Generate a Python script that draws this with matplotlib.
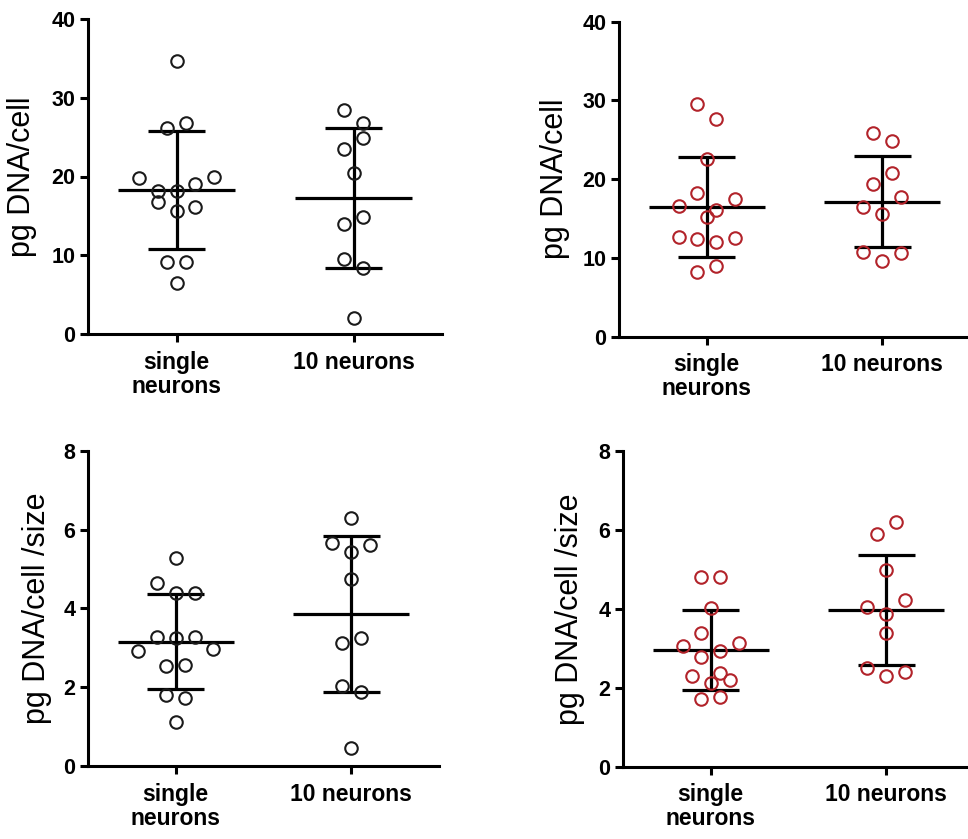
import matplotlib
matplotlib.use("Agg")
import matplotlib.pyplot as plt
import numpy as np

plt.rcParams['font.family'] = ['Liberation Sans', 'DejaVu Sans']

# ---------------- data (listed row by row, left-to-right within a row) ----------------
categories = ["single\nneurons", "10 neurons"]

# top-left: pg DNA/cell (black)
dna_black_single = [34.67, 26.13, 26.85, 19.87, 18.18, 18.18, 19.03, 20.0,
                    16.7, 15.64, 16.15, 9.13, 9.13, 6.43]
dna_black_ten = [28.46, 26.77, 23.51, 24.86, 20.42, 14.0, 14.84, 9.56, 8.37, 2.03]

# top-right: pg DNA/cell (red)
dna_red_single = [29.5, 27.6, 22.6, 16.63, 18.28, 16.04, 17.44, 15.15,
                  12.61, 12.44, 12.06, 12.57, 8.17, 8.97]
dna_red_ten = [25.81, 24.84, 19.34, 20.82, 16.5, 15.53, 17.77, 10.79, 9.65, 10.58]

# bottom-left: pg DNA/cell/size (black)
size_black_single = [5.28, 4.65, 4.38, 4.38, 2.93, 3.28, 3.26, 3.28, 2.97,
                     2.54, 2.56, 1.80, 1.72, 1.11]
size_black_ten = [6.28, 5.65, 5.44, 5.62, 4.74, 3.13, 3.24, 2.03, 1.89, 0.45]

# bottom-right: pg DNA/cell/size (red)
size_red_single = [4.81, 4.80, 4.03, 3.06, 3.38, 2.93, 3.14, 2.79, 2.38,
                   2.31, 2.13, 2.20, 1.71, 1.77]
size_red_ten = [5.90, 6.19, 4.98, 4.05, 3.86, 4.22, 3.40, 2.51, 2.31, 2.39]

top_ticks = [0, 10, 20, 30, 40]
bottom_ticks = [0, 2, 4, 6, 8]
ylabel_top = "pg DNA/cell"
ylabel_bottom = "pg DNA/cell /size"

BLACK = "#1a1a1a"
RED = "#b2232a"

# ---------------- helpers ----------------
ROW_FRAC = 0.0585   # rows are groups of points within this fraction of y range
STEP = 0.107        # horizontal spacing between points within a row


def row_offsets(values, row_h, step):
    n = len(values)
    order = sorted(range(n), key=lambda i: (-values[i], i))
    rows = []
    for i in order:
        if rows and rows[-1][0] - values[i] <= row_h:
            rows[-1][1].append(i)
        else:
            rows.append([values[i], [i]])
    offs = np.zeros(n)
    for _, idx in rows:
        idx = sorted(idx)
        k = len(idx)
        for j, i in enumerate(idx):
            offs[i] = (j - (k - 1) / 2) * step
    return offs


def panel(rect, groups, color, ticks, ylabel, label_x):
    ax = fig.add_axes(rect)
    ymax = ticks[-1]
    ax.set_xlim(-0.5, 1.5)
    ax.set_ylim(0, ymax)
    row_h = ROW_FRAC * ymax
    for pos, vals in enumerate(groups):
        v = np.asarray(vals, dtype=float)
        m = v.mean()
        sd = v.std(ddof=1)
        ax.hlines(m, pos - 0.33, pos + 0.33, color="black", lw=2.3, zorder=2)
        ax.vlines(pos, m - sd, m + sd, color="black", lw=2.3, zorder=2)
        ax.hlines([m - sd, m + sd], pos - 0.162, pos + 0.162, color="black",
                  lw=2.3, zorder=2)
        x = pos + row_offsets(list(v), row_h, STEP)
        ax.plot(x, v, linestyle="none", marker="o", ms=9.0, mew=1.5,
                mfc="none", mec=color, zorder=3, clip_on=False)
    for s in ("top", "right"):
        ax.spines[s].set_visible(False)
    for s in ("left", "bottom"):
        ax.spines[s].set_linewidth(2.2)
        ax.spines[s].set_color("black")
    ax.set_yticks(ticks)
    ax.set_yticklabels([str(t) for t in ticks], fontsize=15.5, fontweight="bold")
    ax.set_xticks(range(len(categories)))
    ax.set_xticklabels(categories, fontsize=16.5, fontweight="bold",
                       linespacing=1.05)
    ax.tick_params(axis="y", length=6, width=2.2, pad=3)
    ax.tick_params(axis="x", length=6, width=2.2, pad=6)
    ax.set_ylabel(ylabel, fontsize=22)
    ax.yaxis.set_label_coords(label_x, 0.5)
    return ax


W, H = 968, 839
fig = plt.figure(figsize=(W / 100, H / 100), dpi=100)


def rect(left, right, top, bottom):
    return [left / W, 1 - bottom / H, (right - left) / W, (bottom - top) / H]


panel(rect(88, 442, 19, 334), [dna_black_single, dna_black_ten], BLACK,
      top_ticks, ylabel_top, -0.145)
panel(rect(619, 970, 21.7, 336.7), [dna_red_single, dna_red_ten], RED,
      top_ticks, ylabel_top, -0.14)
panel(rect(88, 439, 450.7, 766), [size_black_single, size_black_ten], BLACK,
      bottom_ticks, ylabel_bottom, -0.103)
panel(rect(623, 974, 451, 766.7), [size_red_single, size_red_ten], RED,
      bottom_ticks, ylabel_bottom, -0.109)

fig.savefig("out.png", dpi=100)
